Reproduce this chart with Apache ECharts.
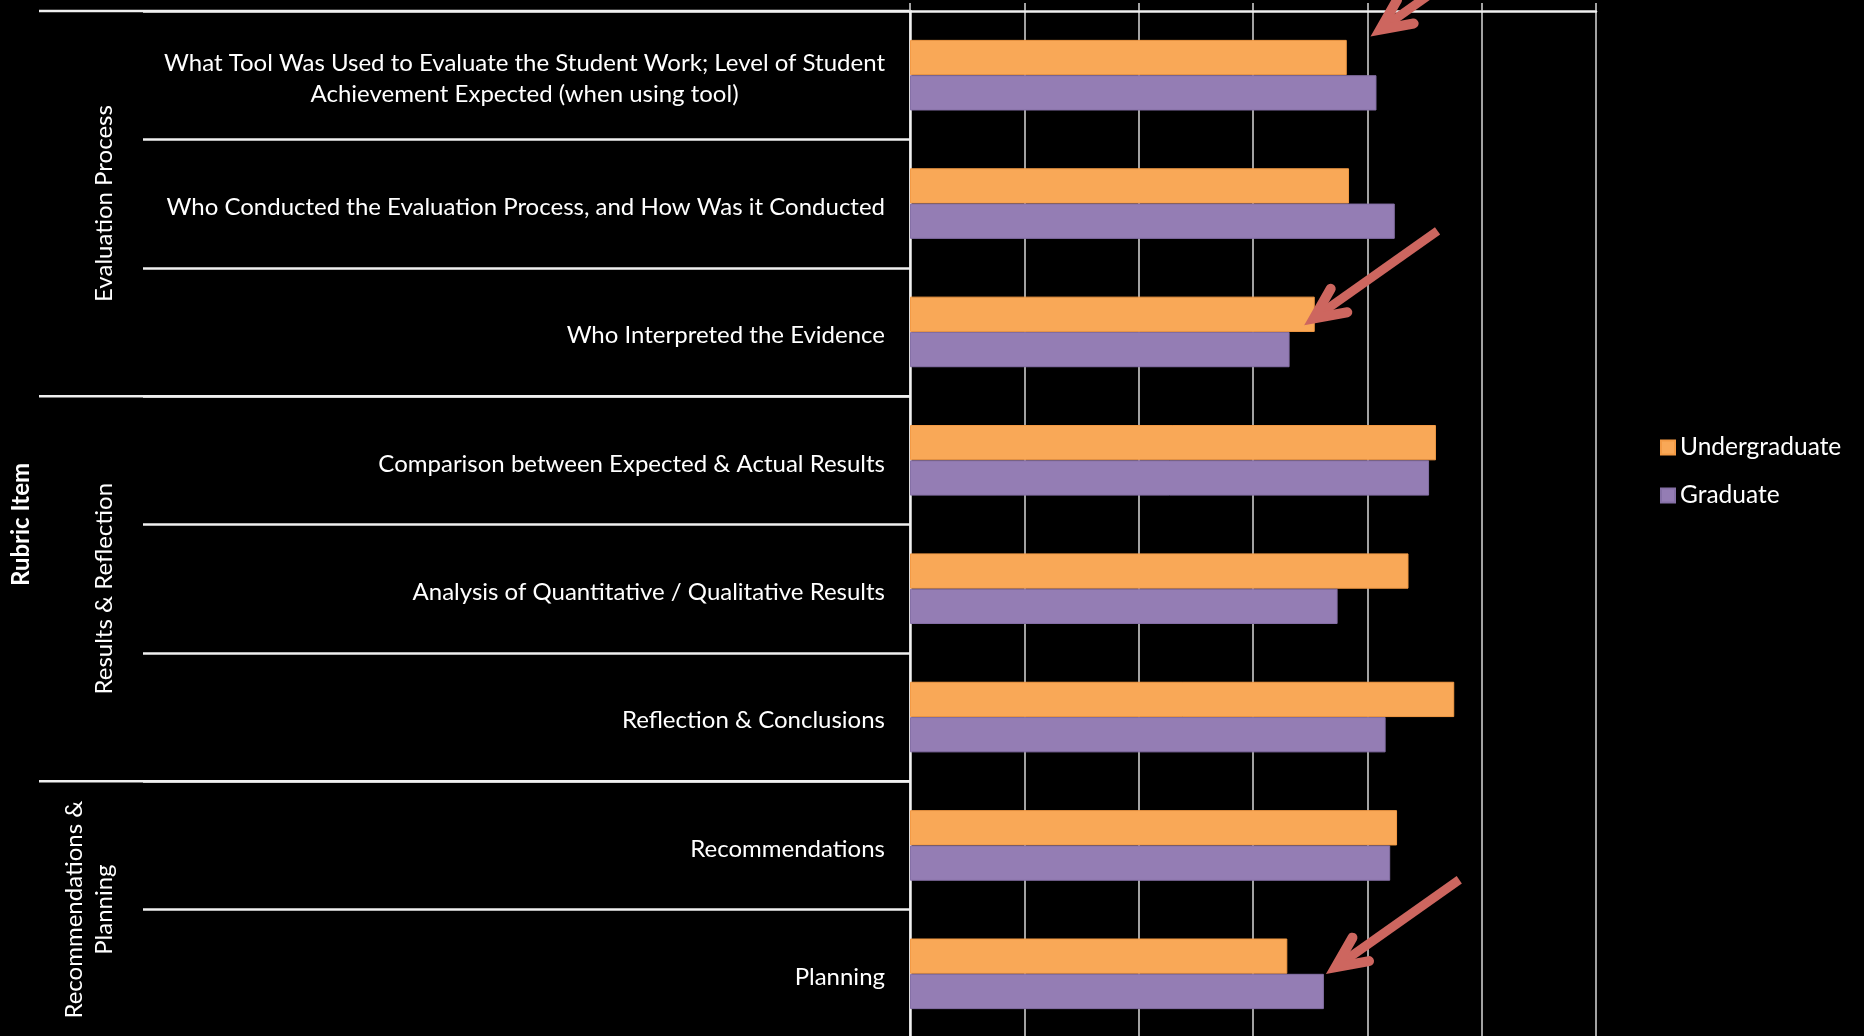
<!DOCTYPE html>
<html>
<head>
<meta charset="utf-8">
<title>Rubric Item Scores</title>
<script src="https://cdn.jsdelivr.net/npm/echarts@6.0.0/dist/echarts.min.js"></script>
<style>
  html, body { margin: 0; padding: 0; background: #000; }
  #chart { width: 1864px; height: 1036px; }
</style>
</head>
<body>
<div id="chart"></div>
<script>
// Rubric items, top to bottom
const categories = [
  'What Tool Was Used to Evaluate the Student Work; Level of Student\nAchievement Expected (when using tool)',
  'Who Conducted the Evaluation Process, and How Was it Conducted',
  'Who Interpreted the Evidence',
  'Comparison between Expected & Actual Results',
  'Analysis of Quantitative / Qualitative Results',
  'Reflection & Conclusions',
  'Recommendations',
  'Planning'
];

// Rubric sections and how many items each one holds
const groupNames = ['Evaluation Process', 'Results & Reflection', 'Recommendations &\nPlanning'];
const groupSizes = [3, 3, 2];

const seriesNames = ['Undergraduate', 'Graduate'];
const undergraduate = [1.91, 1.92, 1.77, 2.30, 2.18, 2.38, 2.13, 1.65];
const graduate      = [2.04, 2.12, 1.66, 2.27, 1.87, 2.08, 2.10, 1.81];

// Score axis
const axisMin = 0, axisMax = 3, axisStep = 0.5;

// Call-out arrows: [score, item index, vertical nudge in px]
const arrowTargets = [
  [2.015, 0, -39],
  [1.725, 2, -7],
  [1.82, 7, 0]
];

const FONT = 'Lato';
const FS = 24;
const WHITE = '#ffffff';
const RULE = '#f0f0f0';
const ORANGE = '#f9a857';
const PURPLE = '#947db4';
const ARROW = '#cd665f';

// width of the widest line of a multi-line item label, so its lines centre on each other
const mctx = document.createElement('canvas').getContext('2d');
mctx.font = FS + 'px ' + FONT;
let blockW = 0;
categories.forEach(c => {
  if (c.indexOf('\n') >= 0) {
    c.split('\n').forEach(l => { blockW = Math.max(blockW, mctx.measureText(l).width); });
  }
});

const chart = echarts.init(document.getElementById('chart'));

chart.setOption({
  backgroundColor: '#000',
  animation: false,
  textStyle: { fontFamily: FONT },
  grid: { left: 910, right: 268, top: 11, height: 1027, containLabel: false, outerBoundsMode: 'none' },
  legend: {
    data: seriesNames,
    orient: 'vertical',
    left: 1660,
    top: 435,
    padding: 0,
    icon: 'rect',
    itemWidth: 14,
    itemHeight: 14,
    itemGap: 23,
    textStyle: { color: WHITE, fontSize: 24.5, fontFamily: FONT, lineHeight: 24 }
  },
  xAxis: {
    type: 'value',
    position: 'top',
    min: axisMin,
    max: axisMax,
    interval: axisStep,
    axisLine: { show: true, lineStyle: { color: RULE, width: 2.5 } },
    axisTick: { show: true, length: 8, lineStyle: { color: '#d9d9d9', width: 1.5 } },
    axisLabel: { show: false },
    splitLine: { show: true, lineStyle: { color: '#d9d9d9', width: 1.5 } }
  },
  yAxis: {
    type: 'category',
    inverse: true,
    data: categories,
    axisLine: { show: true, lineStyle: { color: RULE, width: 2.5 } },
    axisTick: { show: true, length: 767, lineStyle: { color: RULE, width: 2.5 } },
    splitLine: { show: false },
    axisLabel: {
      color: WHITE,
      fontSize: FS,
      fontFamily: FONT,
      margin: 25,
      lineHeight: 31,
      padding: [7, 0, 0, 0],
      formatter: function (v) {
        if (v.indexOf('\n') < 0) return v;
        return v.split('\n').map(l => '{c|' + l + '}').join('\n');
      },
      rich: {
        c: { width: blockW, align: 'center', color: WHITE, fontSize: FS, fontFamily: FONT, lineHeight: 31 }
      }
    }
  },
  series: [
    {
      name: seriesNames[0],
      type: 'bar',
      data: undergraduate,
      barGap: '0%',
      barCategoryGap: '45%',
      itemStyle: { color: ORANGE, borderColor: '#f39a45', borderWidth: 1 }
    },
    {
      name: seriesNames[1],
      type: 'bar',
      data: graduate,
      barGap: '0%',
      barCategoryGap: '45%',
      itemStyle: { color: PURPLE, borderColor: '#8570a6', borderWidth: 1 }
    }
  ]
});

// Section rules, section titles, axis title and call-out arrows
function px(x, catIdx) {
  return chart.convertToPixel({ xAxisIndex: 0, yAxisIndex: 0 }, [x, catIdx]);
}
const band = px(0, 1)[1] - px(0, 0)[1];
const plotLeft = px(axisMin, 0)[0];
const graphics = [];

let start = 0;
const boundaries = [px(0, 0)[1] - band / 2];
groupSizes.forEach((n, gi) => {
  const top = px(0, start)[1] - band / 2;
  const bottom = px(0, start + n - 1)[1] + band / 2;
  boundaries.push(bottom);
  const multi = groupNames[gi].indexOf('\n') >= 0;
  graphics.push({
    type: 'text',
    x: multi ? 89 : 104.5,
    y: (top + bottom) / 2,
    rotation: Math.PI / 2,
    style: {
      text: groupNames[gi],
      fill: WHITE,
      font: FS + 'px ' + FONT,
      lineHeight: 30,
      textAlign: 'center',
      textVerticalAlign: 'middle',
      align: 'center',
      verticalAlign: 'middle'
    }
  });
  start += n;
});
boundaries.forEach(y => {
  graphics.push({
    type: 'line',
    shape: { x1: 39, y1: y, x2: plotLeft, y2: y },
    style: { stroke: RULE, lineWidth: 2.5 }
  });
});

const firstY = px(0, 0)[1] - band / 2;
const lastY = px(0, categories.length - 1)[1] + band / 2;
graphics.push({
  type: 'text',
  x: 21.5,
  y: (firstY + lastY) / 2,
  rotation: Math.PI / 2,
  style: {
    text: 'Rubric Item',
    fill: WHITE,
    font: 'bold ' + FS + 'px ' + FONT,
    textAlign: 'center',
    textVerticalAlign: 'middle',
    align: 'center',
    verticalAlign: 'middle'
  }
});

// arrow pointing down-left at its target
const dirX = 133, dirY = -94;
const dlen = Math.sqrt(dirX * dirX + dirY * dirY);
const ux = dirX / dlen, uy = dirY / dlen;
function rot(x, y, a) {
  return [x * Math.cos(a) - y * Math.sin(a), x * Math.sin(a) + y * Math.cos(a)];
}
arrowTargets.forEach(t => {
  const p = px(t[0], t[1]);
  const tip = [p[0], p[1] + t[2]];
  const back = 11.5;
  const v = [tip[0] + ux * back, tip[1] + uy * back];
  const a1 = rot(ux, uy, 25 * Math.PI / 180);
  const a2 = rot(ux, uy, -25 * Math.PI / 180);
  const arm = 34;
  graphics.push({
    type: 'line',
    z: 100,
    shape: { x1: tip[0] + ux * 14, y1: tip[1] + uy * 14, x2: tip[0] + ux * 163, y2: tip[1] + uy * 163 },
    style: { stroke: ARROW, lineWidth: 9, lineCap: 'butt' }
  });
  graphics.push({
    type: 'polyline',
    z: 100,
    shape: { points: [[v[0] + a1[0] * arm, v[1] + a1[1] * arm], v, [v[0] + a2[0] * arm, v[1] + a2[1] * arm]] },
    style: { stroke: ARROW, fill: null, lineWidth: 10, lineJoin: 'miter', lineCap: 'round' }
  });
});

chart.setOption({ graphic: graphics });
</script>
</body>
</html>
